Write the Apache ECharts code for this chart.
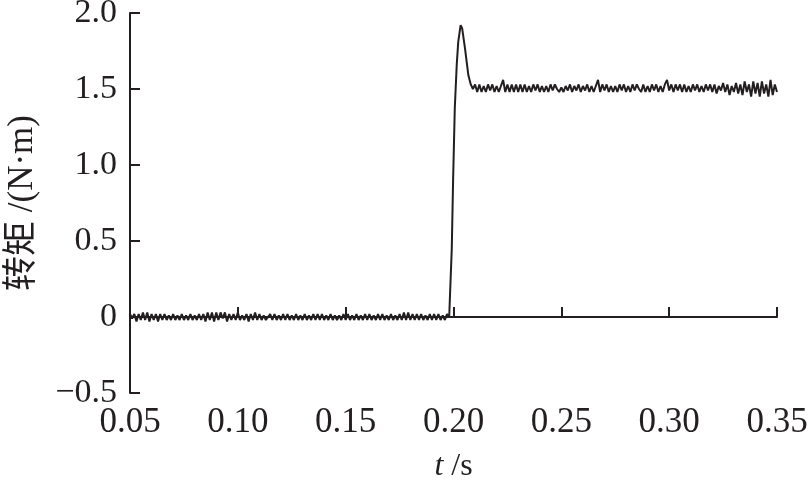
<!DOCTYPE html>
<html>
<head>
<meta charset="utf-8">
<script src="https://cdn.jsdelivr.net/npm/echarts@6/dist/echarts.min.js"></script>
<style>html,body{margin:0;padding:0;background:#fff}#c{width:808px;height:483px}</style>
</head>
<body>
<div id="c"></div>
<script>
// Baseline torque (N·m), sampled every 0.001 s from t = 0.050 to 0.198
const baseStart = 0.050;
const baseValues = [
0.02,-0.01,0.02,-0.03,0.02,-0.02,0.03,-0.02,0.03,-0.03,0.02,-0.02,0.02,-0.03,0.02,
-0.02,0.02,-0.02,0.01,-0.02,0.02,-0.02,0.01,-0.02,0.02,-0.02,0.01,-0.02,0.02,-0.02,
0.01,-0.02,0.02,-0.02,0.02,-0.03,0.03,-0.02,0.03,-0.03,0.03,-0.02,0.03,-0.01,0.03,
-0.03,0.02,-0.02,0.02,-0.02,0.03,-0.02,0.01,-0.02,0.02,-0.03,0.02,-0.02,0.03,-0.02,
0.02,-0.02,0.01,-0.02,0.00,0.02,-0.02,0.02,-0.02,0.01,-0.02,0.02,-0.02,0.02,-0.02,
0.01,-0.02,0.02,-0.02,0.01,-0.02,0.02,-0.02,0.01,-0.02,0.02,-0.02,0.02,-0.02,0.02,
-0.02,0.01,-0.02,0.02,-0.02,0.01,-0.02,0.01,-0.02,0.02,-0.02,0.02,-0.02,0.01,-0.02,
0.02,-0.02,0.01,-0.02,0.02,-0.02,0.02,-0.02,0.01,-0.02,0.02,-0.02,0.02,-0.02,0.01,
-0.02,0.02,-0.02,0.01,-0.02,0.02,-0.02,0.03,-0.02,0.03,-0.02,0.02,-0.02,0.02,-0.02,
0.02,-0.02,0.01,-0.02,0.02,-0.02,0.02,-0.02,0.02,-0.02,0.01,-0.02,0.02,0.00
];
// Step transient
const stepTimes  = [0.1992,0.1998,0.2006,0.2015,0.2022,0.2033,0.2040,0.2053,0.2069,0.2080];
const stepValues = [0.45, 0.89, 1.375,1.66, 1.81, 1.92, 1.90, 1.77, 1.59, 1.53];
// Loaded torque, sampled every 0.001 s from t = 0.209 to 0.350
const loadStart = 0.209;
const loadValues = [
1.50,1.53,1.48,1.53,1.48,1.52,1.48,1.53,1.49,1.53,1.48,1.52,1.48,1.52,1.56,
1.48,1.53,1.48,1.53,1.48,1.53,1.48,1.53,1.48,1.53,1.48,1.52,1.48,1.53,1.49,
1.53,1.48,1.52,1.48,1.52,1.48,1.53,1.49,1.53,1.50,1.48,1.51,1.48,1.52,1.49,
1.53,1.48,1.52,1.49,1.53,1.48,1.52,1.49,1.53,1.48,1.52,1.48,1.52,1.56,1.48,
1.53,1.49,1.53,1.48,1.52,1.48,1.52,1.48,1.53,1.49,1.53,1.48,1.52,1.48,1.53,
1.49,1.53,1.50,1.48,1.53,1.48,1.52,1.48,1.53,1.49,1.53,1.48,1.52,1.48,1.53,
1.56,1.49,1.53,1.48,1.53,1.49,1.53,1.48,1.53,1.48,1.52,1.48,1.53,1.49,1.53,
1.48,1.52,1.48,1.53,1.49,1.53,1.48,1.53,1.47,1.52,1.49,1.54,1.48,1.53,1.46,
1.52,1.48,1.54,1.47,1.53,1.46,1.55,1.48,1.53,1.45,1.55,1.47,1.54,1.45,1.55,
1.47,1.53,1.45,1.56,1.46,1.53,1.48
];
const xTicks = [0.05,0.10,0.15,0.20,0.25,0.30,0.35];
const yTicks = [-0.5,0,0.5,1.0,1.5,2.0];

const data = [];
baseValues.forEach((v,i)=>data.push([+(baseStart+i*0.001).toFixed(4), v]));
stepTimes.forEach((t,i)=>data.push([t, stepValues[i]]));
loadValues.forEach((v,i)=>data.push([+(loadStart+i*0.001).toFixed(4), v]));

const FONT = '"Liberation Serif","Noto Sans CJK SC",serif';
const chart = echarts.init(document.getElementById('c'), null, {renderer:'canvas'});
chart.setOption({
  animation:false,
  backgroundColor:'#fff',
  grid:{left:130, right:31, top:13, bottom:90, containLabel:false, outerBoundsMode:'none'},
  xAxis:{
    type:'value', min:xTicks[0], max:xTicks[xTicks.length-1], interval:0.05,
    axisLine:{lineStyle:{color:'#231f20', width:2}},
    axisTick:{inside:true, length:10, lineStyle:{color:'#231f20', width:2}},
    splitLine:{show:false},
    axisLabel:{color:'#231f20', fontFamily:FONT, fontSize:35, margin:12,
      formatter:v=>v.toFixed(2)},
    name:'{i|t}{n| /s}', nameLocation:'middle', nameGap:58,
    nameTextStyle:{rich:{
      i:{fontFamily:FONT, fontStyle:'italic', fontSize:32, color:'#231f20'},
      n:{fontFamily:FONT, fontSize:32, color:'#231f20'}}}
  },
  yAxis:{
    type:'value', min:yTicks[0], max:yTicks[yTicks.length-1], interval:0.5,
    axisLine:{lineStyle:{color:'#231f20', width:2}},
    axisTick:{inside:true, length:10, lineStyle:{color:'#231f20', width:2}},
    splitLine:{show:false},
    axisLabel:{color:'#231f20', fontFamily:FONT, fontSize:34, margin:13,
      formatter:v=> v===0 ? '0' : v.toFixed(1).replace('-','\u2212')},
    name:'转矩 /(N·m)', nameLocation:'middle', nameGap:90, nameRotate:90,
    nameTextStyle:{fontFamily:FONT, fontSize:35, color:'#231f20'}
  },
  series:[{
    type:'line', data:data, showSymbol:false, symbol:'none',
    lineStyle:{color:'#231f20', width:2}
  }]
});
</script>
</body>
</html>
